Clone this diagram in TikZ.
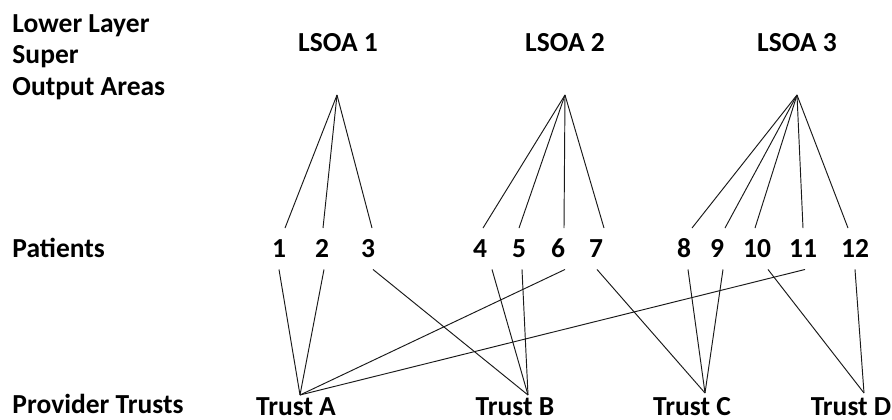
\documentclass[tikz,border=0pt]{standalone}
\usepackage{fontspec}
\setmainfont{Carlito}
\begin{document}
\begin{tikzpicture}[x=1pt,y=-1pt,draw=black!90,line width=0.95pt]
 	\def \lsoaht{52}
 	\def \apexht{95}
 	\def \patientht{257.5}
 	\def \trustapex{395}
 	\def \trustht{415.5}
 	\fontsize{27.5}{31.5}\selectfont\bfseries
 	\useasboundingbox (0,0) rectangle (892,420);
 	\tikzstyle{head}=[anchor=north west,inner sep=0pt,align=left]
 	\tikzstyle{lsoa}=[anchor=base,inner sep=0pt]
 	\tikzstyle{p-node}=[anchor=base,inner xsep=2pt,inner ysep=11.5pt,text height=17.5pt,text depth=0pt]
 	\tikzstyle{t-node}=[anchor=base,inner sep=0pt]
 	% row titles
 	\node[head] (areas) at (12,14) {Lower Layer\\Super\\Output Areas};
 	\node[head,anchor=base west] (patients) at (12,\patientht) {Patients};
 	\node[head,anchor=base west] (trusts) at (12,413) {Provider Trusts};
	
 	\node[lsoa] (lsoa1) at (338,\lsoaht) {LSOA 1};
 	\node[lsoa] (lsoa2) at (565,\lsoaht) {LSOA 2};
 	\node[lsoa] (lsoa3) at (797,\lsoaht) {LSOA 3};
 	\coordinate (l1) at (337,\apexht);
 	\coordinate (l2) at (565,\apexht);
 	\coordinate (l3) at (797,\apexht);
	
 	\node[p-node] (p1) at (279,\patientht) {1};
 	\node[p-node] (p2) at (322,\patientht) {2};
 	\node[p-node] (p3) at (368,\patientht) {3};
 	\node[p-node] (p4) at (480,\patientht) {4};
 	\node[p-node] (p5) at (519,\patientht) {5};
 	\node[p-node] (p6) at (558,\patientht) {6};
 	\node[p-node] (p7) at (596,\patientht) {7};
 	\node[p-node] (p8) at (684,\patientht) {8};
 	\node[p-node] (p9) at (717,\patientht) {9};
 	\node[p-node] (p10) at (757,\patientht) {10};
 	\node[p-node] (p11) at (803,\patientht) {11};
 	\node[p-node] (p12) at (855,\patientht) {12};
	
 	\node[t-node] (trustA) at (296,\trustht) {Trust A};
 	\node[t-node] (trustB) at (515,\trustht) {Trust B};
 	\node[t-node] (trustC) at (692,\trustht) {Trust C};
 	\node[t-node] (trustD) at (851,\trustht) {Trust D};
 	\coordinate (tA) at (300,\trustapex);
 	\coordinate (tB) at (528,\trustapex);
 	\coordinate (tC) at (705,\trustapex-2);
 	\coordinate (tD) at (864,\trustapex-2);
	
 	\path
 		(l1)	edge	([xshift=6pt]p1.north)
 		(l1)	edge	([xshift=1pt]p2.north)
 		(l1)	edge	([xshift=4pt]p3.north)
 		%
 		(l2)	edge	([xshift=3pt]p4.north)
 		(l2)	edge	(p5.north)
 		(l2)	edge	([xshift=6pt]p6.north)
 		(l2)	edge	([xshift=8pt]p7.north)
 		%
 		(l3)	edge	([xshift=8pt]p8.north)
 		(l3)	edge	([xshift=8pt]p9.north)
 		(l3)	edge	([xshift=-2pt]p10.north)
 		(l3)	edge	(p11.north)
 		(l3)	edge	([xshift=-7pt]p12.north);
	
 	\path
 		(p1.south)	edge	(tA)
 		([xshift=2pt]p2.south)	edge	(tA)
 		([xshift=7pt]p6.south)	edge	(tA)
 		([xshift=2pt]p11.south)	edge	(tA)
 		%
 		([xshift=5pt]p3.south)	edge	(tB)
 		([xshift=12pt]p4.south)	edge	(tB)
 		([xshift=3pt]p5.south)	edge	(tB)
 		%
 		([xshift=1pt]p7.south)	edge	(tC)
 		([xshift=4pt]p8.south)	edge	(tC)
 		([xshift=6pt]p9.south)	edge	(tC)
 		%
 		([xshift=11pt]p10.south)	edge	(tD)
 		(p12.south)	edge	(tD);
\end{tikzpicture}
\end{document}
